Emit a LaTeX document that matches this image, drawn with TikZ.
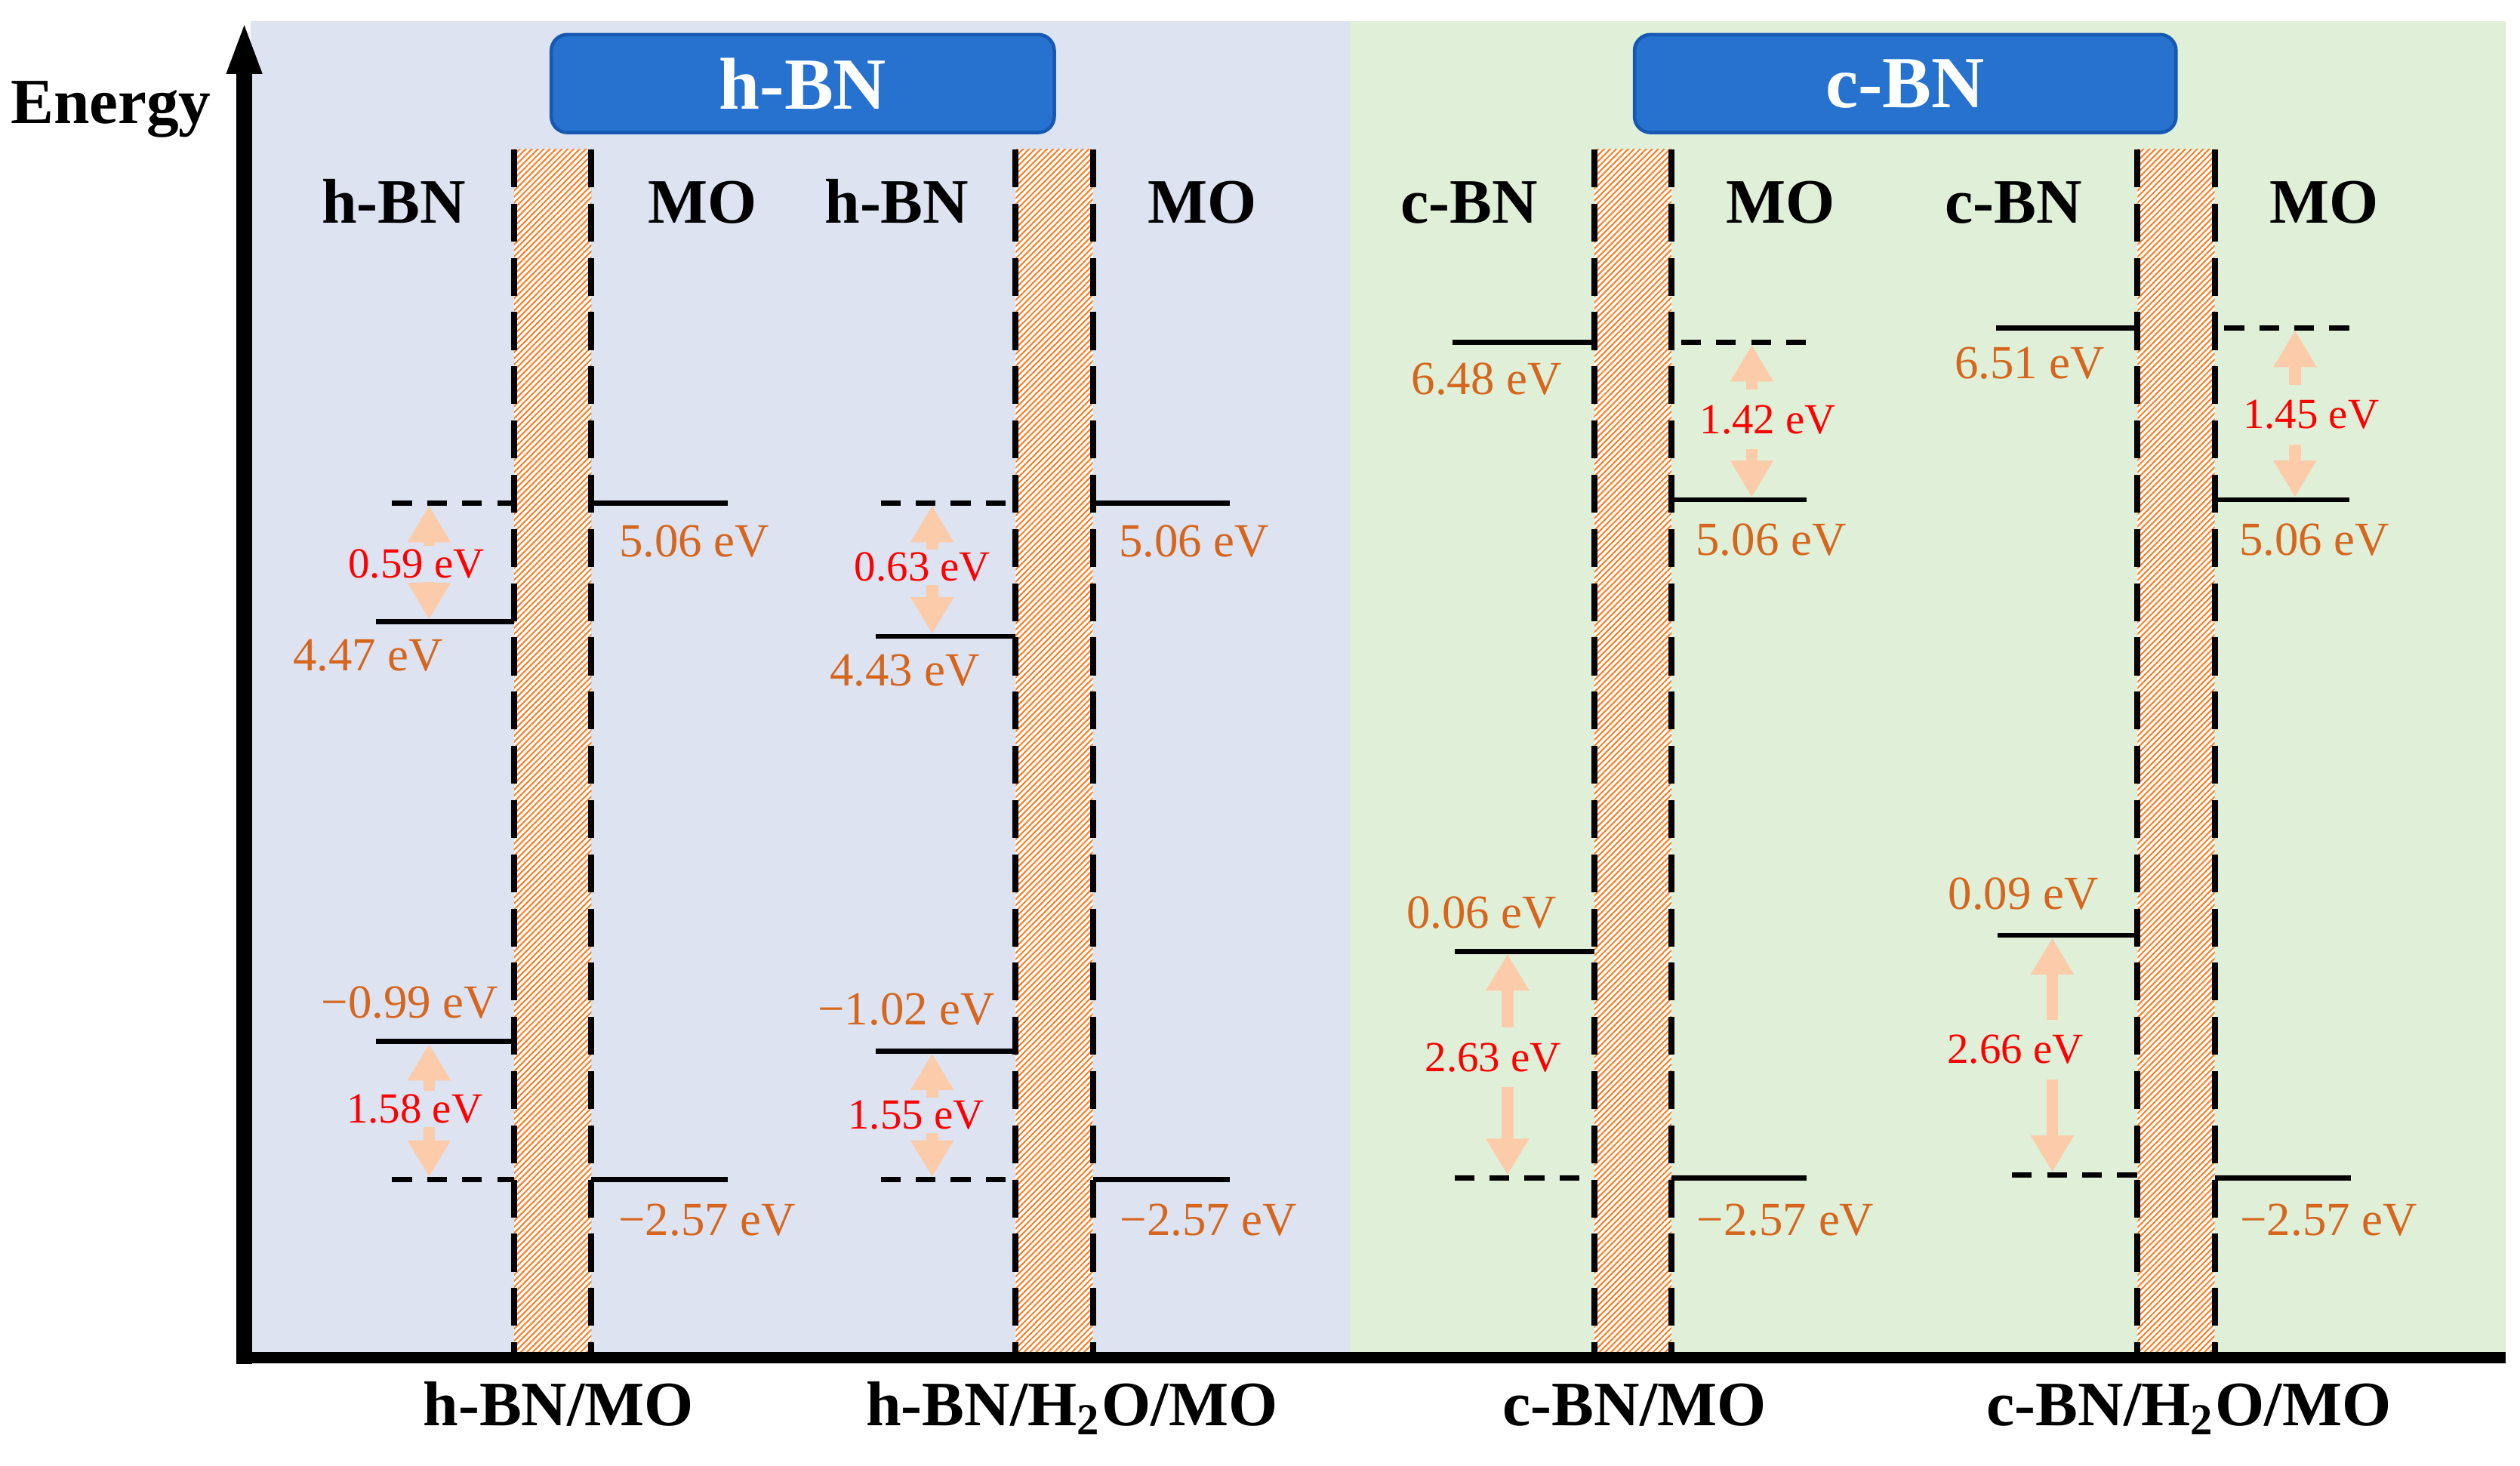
\documentclass[tikz,border=0pt]{standalone}
\usepackage{fontspec}
\setmainfont{Liberation Serif}
\usepackage{tikz}
\usetikzlibrary{arrows.meta}
\usetikzlibrary{patterns.meta}
\definecolor{fondbleu}{RGB}{222,227,241}
\definecolor{fondvert}{RGB}{224,240,216}
\definecolor{fondbandeau}{RGB}{38,114,206}
\definecolor{bordbandeau}{RGB}{22,88,178}
\definecolor{orangeval}{RGB}{214,102,30}
\definecolor{hachure}{RGB}{250,128,40}
\definecolor{peche}{RGB}{251,203,170}
\begin{document}
\begin{tikzpicture}[x=0.1mm,y=-0.1mm,
    niveau/.style={line width=0.9pt},
    niveaupt/.style={line width=0.9pt,dash pattern=on 3.5pt off 2.7pt},
    bord/.style={line width=1.07pt,dash pattern=on 6.7pt off 2.9pt},
    hachures/.style={fill=white,postaction={pattern={Lines[angle=45,distance=0.75pt,line width=0.28pt]},pattern color=hachure}},
    fleche/.style={draw=peche,line width=2.1pt,-{Triangle[width=7.2pt,length=6.5pt]},shorten >=0.45pt},
    valeur/.style={text=orangeval,font=\fontsize{8.4}{10}\selectfont,inner sep=0pt},
    ecart/.style={text=red,font=\fontsize{7.6}{9}\selectfont,inner xsep=0pt,inner ysep=0.4pt},
    colonne/.style={font=\fontsize{11.2}{13}\selectfont\bfseries,anchor=base,inner sep=0pt},
    bandeau/.style={draw=bordbandeau,line width=0.6pt,fill=fondbandeau,rounded corners=1mm,
      text=white,font=\fontsize{13}{15}\selectfont\bfseries,minimum height=6.1mm}]
\useasboundingbox (0,0) rectangle (1568,912);
%					Fonds :
\fill[fondbleu] (156,13) rectangle (840,842);
\fill[fondvert] (840,13) rectangle (1559,842);
%					Bandeaux :
\node[bandeau,minimum width=31.3mm] (bh) at (499.5,52) {h-BN};
\node[bandeau,minimum width=33.7mm] (bc) at (1185.5,52) {c-BN};
%					Barrières :
\foreach \xg in {320,632,992,1330}{
  \fill[hachures] (\xg,93) rectangle (\xg+48,842);
  \draw[bord] (\xg,93) -- (\xg,842);
  \draw[bord] (\xg+48,93) -- (\xg+48,842);
}
%					Tracé des axes :
\draw[line width=2.7pt,-{Triangle[width=5.6pt,length=9.4pt]}] (152,849) -- (152,13);
\draw[line width=2pt] (148,845) -- (1559,845);
\node[font=\fontsize{11.4}{13}\selectfont\bfseries,anchor=base,inner sep=0pt] (en) at (69,77) {Energy};
%					Titres des colonnes :
\node[colonne] (t1g) at (245,139) {h-BN};
\node[colonne] (t1d) at (437,139) {MO};
\node[colonne] (t2g) at (558,139) {h-BN};
\node[colonne] (t2d) at (748,139) {MO};
\node[colonne] (t3g) at (914,139) {c-BN};
\node[colonne] (t3d) at (1108,139) {MO};
\node[colonne] (t4g) at (1253,139) {c-BN};
\node[colonne] (t4d) at (1446,139) {MO};
\node[colonne] (b1) at (347.5,887) {h-BN/MO};
\node[colonne] (b2) at (667,887) {h-BN/H\textsubscript{2}O/MO};
\node[colonne] (b3) at (1017,887) {c-BN/MO};
\node[colonne] (b4) at (1362,887) {c-BN/H\textsubscript{2}O/MO};
%					h-BN/MO :
\draw[niveaupt] (244,313) -- (320,313);
\draw[niveau] (234,387) -- (320,387);
\draw[niveau] (368,313) -- (453,313);
\draw[niveau] (234,648) -- (320,648);
\draw[niveaupt] (244,734) -- (320,734);
\draw[niveau] (368,734) -- (453,734);
\coordinate (a1h) at (267,313);
\coordinate (a1b) at (267,387);
\coordinate (c1h) at (267,648);
\coordinate (c1b) at (267,734);
\node[valeur] (v1a) at (432,337) {5.06 eV};
\node[valeur] (v1b) at (229,408) {4.47 eV};
\node[valeur] (v1c) at (255,624) {−0.99 eV};
\node[valeur] (v1d) at (440,759) {−2.57 eV};
\node[ecart] (e1a) at (259,351) {0.59 eV};
\node[ecart] (e1b) at (258,690) {1.58 eV};
\draw[fleche] (e1a.north -| a1h) -- (a1h);
\draw[fleche] (e1a.south -| a1b) -- (a1b);
\draw[fleche] (e1b.north -| c1h) -- (c1h);
\draw[fleche] (e1b.south -| c1b) -- (c1b);
%					h-BN/H2O/MO :
\draw[niveaupt] (548,313) -- (632,313);
\draw[niveau] (545,396) -- (632,396);
\draw[niveau] (680,313) -- (765,313);
\draw[niveau] (545,654) -- (632,654);
\draw[niveaupt] (548,734) -- (632,734);
\draw[niveau] (680,734) -- (765,734);
\coordinate (a2h) at (580,313);
\coordinate (a2b) at (580,396);
\coordinate (c2h) at (580,654);
\coordinate (c2b) at (580,734);
\node[valeur] (v2a) at (743,337) {5.06 eV};
\node[valeur] (v2b) at (563,417) {4.43 eV};
\node[valeur] (v2c) at (564,628) {−1.02 eV};
\node[valeur] (v2d) at (752,759) {−2.57 eV};
\node[ecart] (e2a) at (574,353) {0.63 eV};
\node[ecart] (e2b) at (570,694) {1.55 eV};
\draw[fleche] (e2a.north -| a2h) -- (a2h);
\draw[fleche] (e2a.south -| a2b) -- (a2b);
\draw[fleche] (e2b.north -| c2h) -- (c2h);
\draw[fleche] (e2b.south -| c2b) -- (c2b);
%					c-BN/MO :
\draw[niveau] (904,213) -- (992,213);
\draw[niveaupt] (1046,213) -- (1126,213);
\draw[niveau] (1040,311) -- (1124,311);
\draw[niveau] (905,592) -- (992,592);
\draw[niveaupt] (905,733) -- (992,733);
\draw[niveau] (1040,733) -- (1124,733);
\coordinate (a3h) at (1090,213);
\coordinate (a3b) at (1090,311);
\coordinate (c3h) at (938,592);
\coordinate (c3b) at (938,733);
\node[valeur] (v3a) at (925,236) {6.48 eV};
\node[valeur] (v3b) at (1102,336) {5.06 eV};
\node[valeur] (v3c) at (922,568) {0.06 eV};
\node[valeur] (v3d) at (1111,759) {−2.57 eV};
\node[ecart,inner ysep=2.5pt] (e3a) at (1100,261) {1.42 eV};
\node[ecart,inner ysep=2.5pt] (e3b) at (929,658) {2.63 eV};
\draw[fleche] (e3a.north -| a3h) -- (a3h);
\draw[fleche] (e3a.south -| a3b) -- (a3b);
\draw[fleche] (e3b.north -| c3h) -- (c3h);
\draw[fleche] (e3b.south -| c3b) -- (c3b);
%					c-BN/H2O/MO :
\draw[niveau] (1242,204) -- (1330,204);
\draw[niveaupt] (1384,204) -- (1463,204);
\draw[niveau] (1378,311) -- (1462,311);
\draw[niveau] (1243,582) -- (1330,582);
\draw[niveaupt] (1252,731) -- (1330,731);
\draw[niveau] (1378,733) -- (1463,733);
\coordinate (a4h) at (1428,204);
\coordinate (a4b) at (1428,311);
\coordinate (c4h) at (1277,582);
\coordinate (c4b) at (1277,731);
\node[valeur] (v4a) at (1263,226) {6.51 eV};
\node[valeur] (v4b) at (1440,336) {5.06 eV};
\node[valeur] (v4c) at (1259,556) {0.09 eV};
\node[valeur] (v4d) at (1449,759) {−2.57 eV};
\node[ecart,inner ysep=2.5pt] (e4a) at (1438,258) {1.45 eV};
\node[ecart,inner ysep=2.5pt] (e4b) at (1254,653) {2.66 eV};
\draw[fleche] (e4a.north -| a4h) -- (a4h);
\draw[fleche] (e4a.south -| a4b) -- (a4b);
\draw[fleche] (e4b.north -| c4h) -- (c4h);
\draw[fleche] (e4b.south -| c4b) -- (c4b);
\end{tikzpicture}
\end{document}
